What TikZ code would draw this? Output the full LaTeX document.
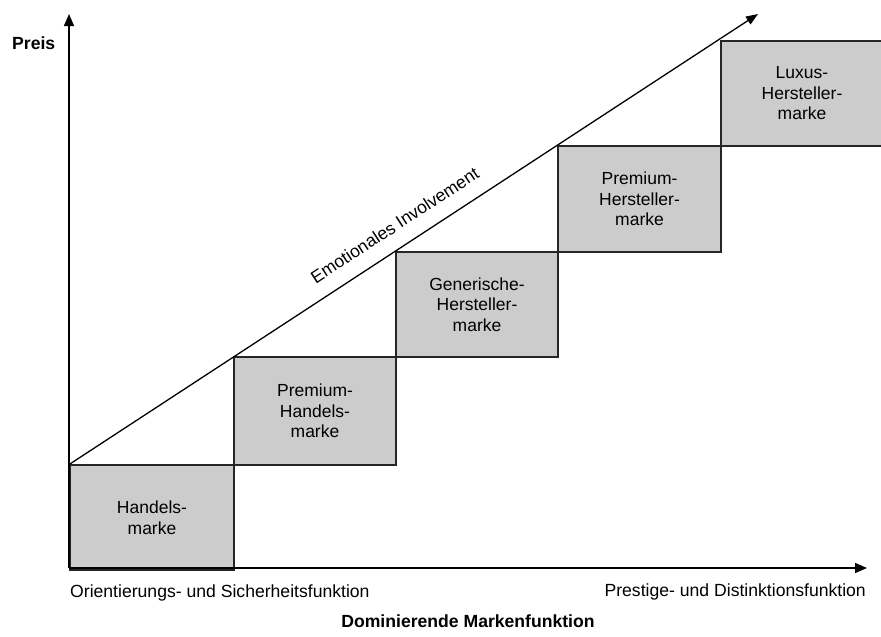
\documentclass[tikz,border=0pt]{standalone}
\usepackage{fontspec}
\setmainfont{Liberation Sans}
\usetikzlibrary{arrows.meta}
\begin{document}
\begin{tikzpicture}[x=1pt,y=-1pt,
  box/.style={draw=black!85, line width=1.3pt, fill=black!20, font=\fontsize{17.5}{20.5}\selectfont, align=center, inner sep=0pt},
  axis/.style={line width=1.4pt, -{Triangle[length=12pt,width=10pt]}},
  lbl/.style={font=\fontsize{17.6}{20}\selectfont, inner sep=0pt},
  blbl/.style={font=\fontsize{17.6}{20}\selectfont\bfseries, inner sep=0pt}]
\useasboundingbox (0,0) rectangle (881,637);
\coordinate (o) at (69,568);
\coordinate (ytip) at (69,14);
\coordinate (xtip) at (867,568);
\coordinate (dtip) at (758,14);
\node[box, minimum width=164pt, minimum height=105pt] (b1) at (152,517.5) {Handels-\\marke};
\node[box, minimum width=162pt, minimum height=108pt] (b2) at (315,411) {Premium-\\Handels-\\marke};
\node[box, minimum width=162pt, minimum height=105pt] (b3) at (477,304.5) {Generische-\\Hersteller-\\marke};
\node[box, minimum width=163pt, minimum height=106pt] (b4) at (639.5,199) {Premium-\\Hersteller-\\marke};
\node[box, minimum width=162pt, minimum height=105pt] (b5) at (802,93.5) {Luxus-\\Hersteller-\\marke};
\draw[axis] (o) -- (ytip);
\draw[axis] (o) -- (xtip);
\draw[line width=1.3pt, -{Triangle[length=12pt,width=9pt]}] (b1.north west) -- (dtip)
  node[pos=0.49, sloped, above=15pt, lbl] (emo) {Emotionales Involvement};
\node[blbl, anchor=west] (preis) at (12,43) {Preis};
\node[lbl, anchor=west] (ori) at (70,593) {Orientierungs- und Sicherheitsfunktion};
\node[lbl, anchor=east] (pre) at (866,592) {Prestige- und Distinktionsfunktion};
\node[blbl] (dom) at (468,621) {Dominierende Markenfunktion};
\end{tikzpicture}
\end{document}
